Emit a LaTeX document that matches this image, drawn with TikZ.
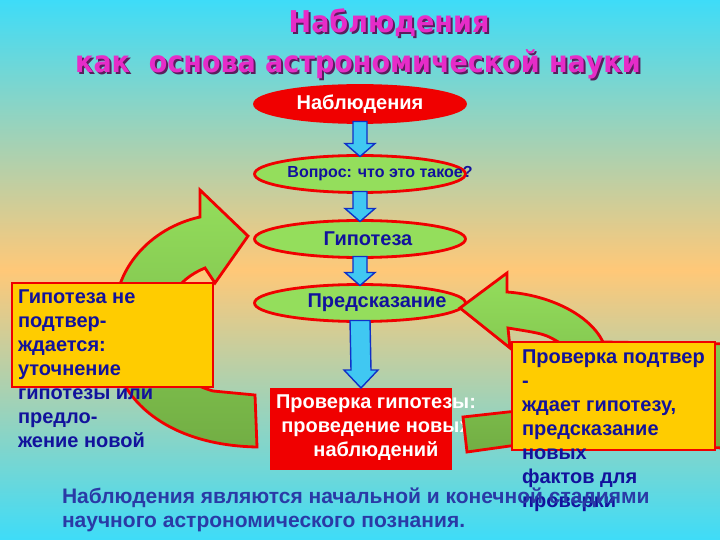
\documentclass[tikz,border=0pt]{standalone}
\usepackage{fontspec}
\setmainfont{Liberation Sans}
\newfontfamily\titlefont{DejaVu Sans Condensed}
\usetikzlibrary{shapes.geometric, positioning, calc}

\definecolor{skycyan}{HTML}{3EDCF8}
\definecolor{sandpeach}{HTML}{FFC878}
\definecolor{redline}{HTML}{F00000}
\definecolor{leafgreen}{HTML}{94DE5C}
\definecolor{olivegreen}{HTML}{72AE44}
\definecolor{arrowcyan}{HTML}{40C8F2}
\definecolor{arrowblue}{HTML}{1030C8}
\definecolor{inkblue}{HTML}{12129C}
\definecolor{boxyellow}{HTML}{FFCC00}
\definecolor{footblue}{HTML}{2A3AA6}
\definecolor{titlemagenta}{HTML}{E62CC8}
\definecolor{shadowplum}{HTML}{5A1E5E}

\begin{document}
\begin{tikzpicture}[x=1pt, y=-1pt,
  every node/.style={inner sep=0pt, outer sep=0pt},
  titletext/.style={font=\titlefont\bfseries\fontsize{30}{34}\selectfont},
  stage/.style={ellipse, draw=redline, line width=2.8pt, fill=leafgreen,
    minimum width=211pt, minimum height=37pt},
  stagetext/.style={text=inkblue, font=\bfseries\fontsize{20}{22}\selectfont},
  flowarrow/.style={draw=arrowblue, line width=1.4pt, fill=arrowcyan, line join=miter},
  returnarrow/.style={draw=redline, line width=2.8pt, line join=miter,
    top color=leafgreen, bottom color=olivegreen},
  notebox/.style={draw=redline, line width=2.8pt, fill=boxyellow},
  notetext/.style={text=inkblue, font=\bfseries\fontsize{20}{24}\selectfont, align=left},
  foottext/.style={text=footblue, font=\bfseries\fontsize{21}{24}\selectfont, align=left}]

  % background
  \shade[top color=skycyan, bottom color=skycyan, middle color=sandpeach]
    (0,0) rectangle (720,540);
  \useasboundingbox (0,0) rectangle (720,540);

  % title
  \node[titletext, text=shadowplum] (titleAs) at (391,25) {Наблюдения};
  \node[titletext, text=titlemagenta] (titleA) at (389,23) {Наблюдения};
  \node[titletext, text=shadowplum] (titleBs) at (360,66) {как\ \ основа астрономической науки};
  \node[titletext, text=titlemagenta] (titleB) at (358,64) {как\ \ основа астрономической науки};

  % return arrows behind the boxes
  \draw[returnarrow] (248,236) -- (215,283) -- (205,268)
    .. controls (150,290) and (140,370) .. (213,391) -- (255,395) -- (257,447)
    .. controls (150,445) and (100,380) .. (115,320)
    .. controls (112,270) and (150,228) .. (200,217) -- (200,190) -- cycle;

  % chain of stages
  \node[stage, fill=redline] (obs) at (360,104) {};
  \node[stage] (ask) at (360,174) {};
  \node[stage] (hyp) at (360,239) {};
  \node[stage] (pred) at (360,303) {};
  \node[text=white, font=\bfseries\fontsize{20}{22}\selectfont] (obst) at (obs.center) {Наблюдения};
  \node[stagetext, font=\bfseries\fontsize{16}{18}\selectfont] (askt) at ($(ask.center)+(20,0)$) {Вопрос: что это такое?};
  \node[stagetext] (hypt) at ($(hyp.center)+(8,0)$) {Гипотеза};
  \node[stagetext] (predt) at ($(pred.center)+(17,0)$) {Предсказание};

  \foreach \a/\b in {obs/ask, ask/hyp, hyp/pred}
    \draw[flowarrow] ($(\a.south)+(-7,-1)$) -- ($(\b.north)+(-7,-12)$) -- ($(\b.north)+(-15,-12)$)
      -- ($(\b.north)+(0,1)$) -- ($(\b.north)+(15,-12)$) -- ($(\b.north)+(7,-12)$)
      -- ($(\a.south)+(7,-1)$) -- cycle;

  % test by new observations
  \node[fill=redline, minimum width=182pt, minimum height=82pt] (test) at (361,429) {};
  \draw[flowarrow] ($(pred.south)+(-10,-1)$) -- ($(test.north)+(-10,-18)$) -- ($(test.north)+(-17,-18)$)
    -- (test.north) -- ($(test.north)+(17,-18)$) -- ($(test.north)+(10,-18)$)
    -- ($(pred.south)+(10,-1)$) -- cycle;
  \node[text=white, font=\bfseries\fontsize{20}{24}\selectfont, align=center] (testt)
    at ($(test.center)+(15,-1)$) {Проверка гипотезы:\\проведение новых\\наблюдений};

  \draw[returnarrow] (460,308) -- (507,273) -- (507,292)
    .. controls (550,295) and (590,315) .. (603,342) -- (730,344) -- (730,448)
    -- (517,445) -- (467,452) -- (463,417) -- (517,411)
    .. controls (600,400) and (610,360) .. (560,343)
    .. controls (545,334) .. (508,328) -- (510,348) -- cycle;

  % side notes
  \node[notebox, minimum width=201pt, minimum height=104pt] (reject) at (112.5,335) {};
  \node[notetext, anchor=north west] (rejectt) at (18,290)
    {Гипотеза не\\подтвер-\\ждается:\\уточнение\\гипотезы или\\предло-\\жение новой};
  \node[notebox, minimum width=203pt, minimum height=108pt] (accept) at (613.5,396) {};
  \node[notetext, anchor=north west] (acceptt) at (522,350)
    {Проверка подтвер\\-\\ждает гипотезу,\\предсказание\\новых\\фактов для\\проверки};

  % conclusion
  \node[foottext, anchor=north west] (foot) at (62,488)
    {Наблюдения являются начальной и конечной стадиями\\научного астрономического познания.};
\end{tikzpicture}
\end{document}
